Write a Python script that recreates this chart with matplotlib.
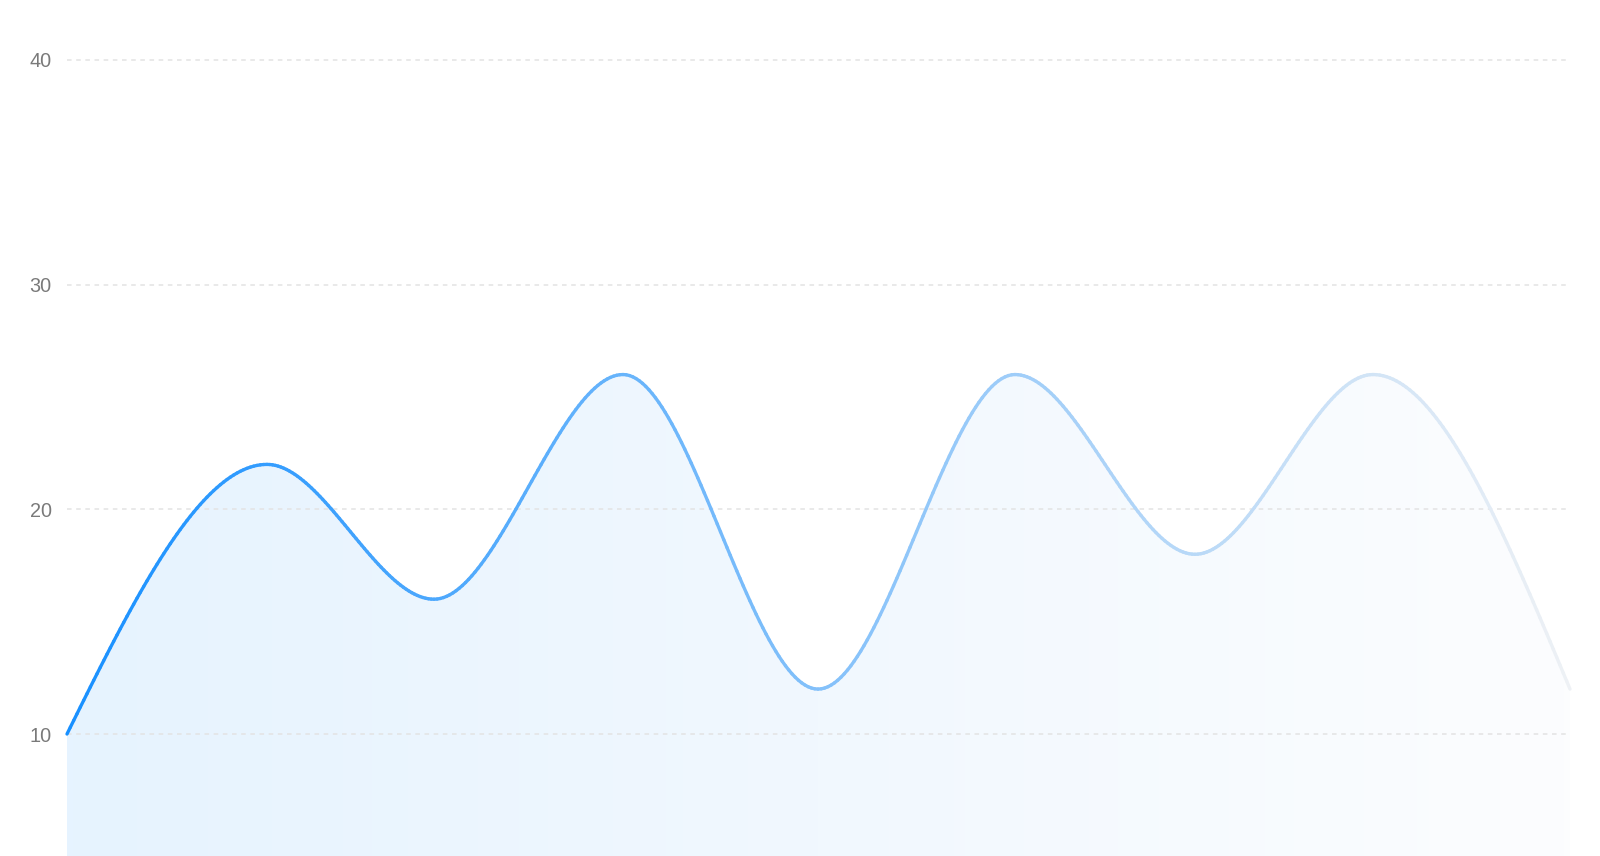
import numpy as np
import matplotlib
matplotlib.use("Agg")
import matplotlib.pyplot as plt
from matplotlib.collections import LineCollection
from matplotlib.colors import LinearSegmentedColormap
from matplotlib.patches import Polygon

# data (x is position along the series, y the value)
x_pos = [0, 200, 367, 556, 751, 948, 1128, 1306, 1503]
values = [10, 22, 16, 26, 12, 26, 18, 26, 12]
y_ticks = [10, 20, 30, 40]

line_start = "#1890ff"
line_end = "#eef1f5"
fill_start = "#e6f3ff"
fill_end = "#fcfdfe"


def monotone_x(xs, ys, n=60):
    # d3 curveMonotoneX
    xs = np.asarray(xs, float)
    ys = np.asarray(ys, float)
    h = np.diff(xs)
    s = np.diff(ys) / h
    t = np.zeros(len(xs))
    for i in range(1, len(xs) - 1):
        p = (s[i - 1] * h[i] + s[i] * h[i - 1]) / (h[i - 1] + h[i])
        t[i] = (np.sign(s[i - 1]) + np.sign(s[i])) * min(abs(s[i - 1]), abs(s[i]), 0.5 * abs(p))
    t[0] = (3 * s[0] - t[1]) / 2
    t[-1] = (3 * s[-1] - t[-2]) / 2
    px, py = [], []
    for i in range(len(xs) - 1):
        u = np.linspace(0, 1, n, endpoint=(i == len(xs) - 2))
        h00 = 2 * u**3 - 3 * u**2 + 1
        h10 = u**3 - 2 * u**2 + u
        h01 = -2 * u**3 + 3 * u**2
        h11 = u**3 - u**2
        px.append(xs[i] + u * h[i])
        py.append(h00 * ys[i] + h10 * h[i] * t[i] + h01 * ys[i + 1] + h11 * h[i] * t[i + 1])
    return np.concatenate(px), np.concatenate(py)


cx, cy = monotone_x(x_pos, values)

fig = plt.figure(figsize=(16, 8.56), dpi=100)
ax = fig.add_axes([67 / 1600, 0, 1503 / 1600, 1])
ymin = 10 - (856 - 734) / 22.47
ymax = 40 + 60 / 22.47
ax.set_xlim(x_pos[0], x_pos[-1])
ax.set_ylim(ymin, ymax)

# gradient area
fill_cmap = LinearSegmentedColormap.from_list("fill", [fill_start, fill_end])
grad = np.linspace(0, 1, 256).reshape(1, -1)
img = ax.imshow(grad, cmap=fill_cmap, aspect="auto",
                extent=[x_pos[0], x_pos[-1], ymin, ymax], zorder=1)
poly = Polygon(np.column_stack([np.r_[cx, cx[-1], cx[0]], np.r_[cy, ymin, ymin]]),
               closed=True, facecolor="none", edgecolor="none")
ax.add_patch(poly)
img.set_clip_path(poly)

# grid
for v in y_ticks:
    ax.plot([x_pos[0], x_pos[-1] - 3], [v, v], color="#e3e3e3", lw=1.1,
            ls=(0, (3, 3)), zorder=2)

# gradient line
line_cmap = LinearSegmentedColormap.from_list("line", [line_start, line_end])
pts = np.column_stack([cx, cy]).reshape(-1, 1, 2)
segs = np.concatenate([pts[:-1], pts[1:]], axis=1)
frac = (cx[:-1] - x_pos[0]) / (x_pos[-1] - x_pos[0])
lc = LineCollection(segs, colors=line_cmap(frac), linewidths=2.4,
                    capstyle="round", joinstyle="round", zorder=3, clip_on=False)
ax.add_collection(lc)

ax.set_yticks(y_ticks)
ax.set_yticklabels([str(v) for v in y_ticks], fontsize=14.3, color="#7a7a7a",
                   fontfamily="Liberation Sans")
ax.tick_params(axis="y", length=0, pad=11)
ax.set_xticks([])
for sp in ax.spines.values():
    sp.set_visible(False)
ax.patch.set_alpha(0)

fig.savefig("out.png", dpi=100)
